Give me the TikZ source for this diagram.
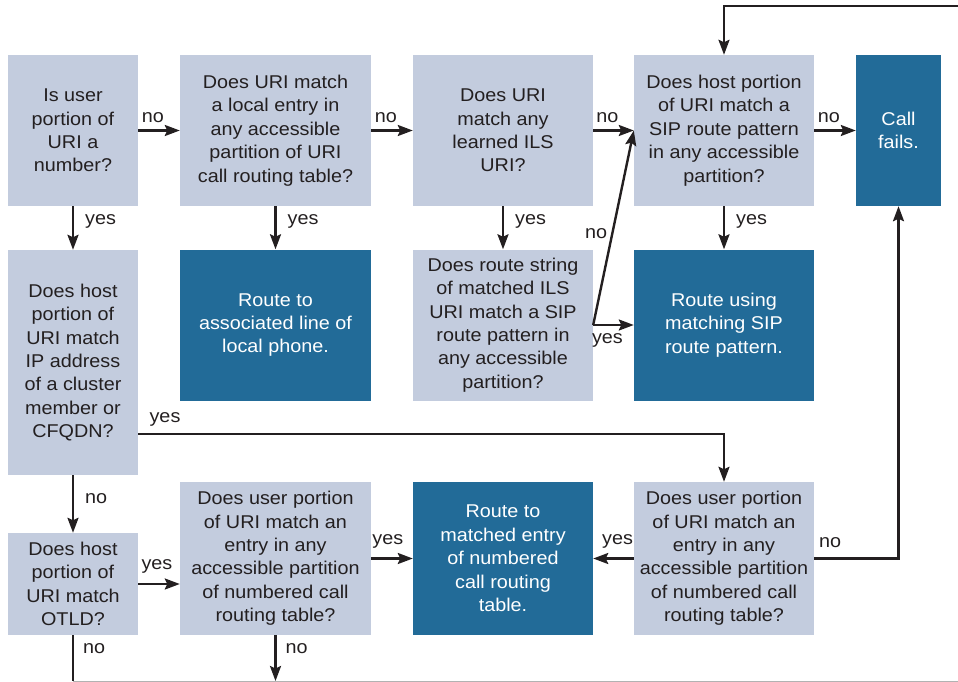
\documentclass[tikz,border=0pt]{standalone}
\usepackage{fontspec}
\setmainfont{Liberation Sans}[FakeStretch=1.07]
\usetikzlibrary{arrows.meta,positioning}

\definecolor{qfill}{RGB}{195,204,222}
\definecolor{rfill}{RGB}{34,107,152}
\definecolor{ink}{RGB}{35,31,32}

\begin{document}
\begin{tikzpicture}[x=1pt,y=-1pt]
    \def\txt{\fontsize{18.5}{23.4}\selectfont}
    \tikzstyle{question} = [fill=qfill, text=ink, inner sep=0pt, align=center, font=\txt]
    \tikzstyle{result} = [fill=rfill, text=white, inner sep=0pt, align=center, font=\txt]
    \tikzstyle{signal} = [draw=ink, line width=2.4pt, -{Stealth[length=15pt,width=11pt,inset=2.5pt]}]
    \tikzstyle{annot} = [text=ink, font=\txt, inner sep=1pt]
    \useasboundingbox (0,0) rectangle (958,682);

    % top row
    \node[question, minimum width=130pt, minimum height=151pt] (isnum) at (73,130.5)
        {Is user\\portion of\\URI a\\number?};
    \node[question, minimum width=191pt, minimum height=151pt] (localuri) at (275.5,130.5)
        {Does URI match\\a local entry in\\any accessible\\partition of URI\\call routing table?};
    \node[question, minimum width=180pt, minimum height=151pt] (ilsuri) at (503,130.5)
        {Does URI\\match any\\learned ILS\\URI?};
    \node[question, minimum width=180pt, minimum height=151pt] (sipmatch) at (724,130.5)
        {Does host portion\\of URI match a\\SIP route pattern\\in any accessible\\partition?};
    \node[result, minimum width=85pt, minimum height=151pt] (fail) at (898.5,130.5)
        {Call\\fails.};

    % middle row
    \node[question, minimum width=130pt, minimum height=225pt] (hostip) at (73,362.5)
        {Does host\\portion of\\URI match\\IP address\\of a cluster\\member or\\CFQDN?};
    \node[result, minimum width=191pt, minimum height=151pt] (localphone) at (275.5,325)
        {Route to\\associated line of\\local phone.};
    \node[question, minimum width=180pt, minimum height=151pt] (ilsroute) at (503,325)
        {Does route string\\of matched ILS\\URI match a SIP\\route pattern in\\any accessible\\partition?};
    \node[result, minimum width=180pt, minimum height=151pt] (siproute) at (724,325)
        {Route using\\matching SIP\\route pattern.};

    % bottom row
    \node[question, minimum width=130pt, minimum height=102pt] (otld) at (73,584)
        {Does host\\portion of\\URI match\\OTLD?};
    \node[question, minimum width=191pt, minimum height=153pt] (numbered) at (275.5,558.5)
        {Does user portion\\of URI match an\\entry in any\\accessible partition\\of numbered call\\routing table?};
    \node[result, minimum width=180pt, minimum height=153pt] (numroute) at (503,558.5)
        {Route to\\matched entry\\of numbered\\call routing\\table.};
    \node[question, minimum width=180pt, minimum height=153pt] (numbered2) at (724,558.5)
        {Does user portion\\of URI match an\\entry in any\\accessible partition\\of numbered call\\routing table?};

    \coordinate (topR) at (958,6);
    \coordinate (bottomL) at (73,681);
    \coordinate (bottomR) at (958,681);

    % no branches along the top
    \draw[signal] (isnum) -- node[annot, above=6pt, pos=0.35] {no} (localuri);
    \draw[signal] (localuri) -- node[annot, above=6pt, pos=0.35] {no} (ilsuri);
    \draw[signal] (ilsuri) -- node[annot, above=6pt, pos=0.35] {no} (sipmatch.west);
    \draw[signal] (sipmatch) -- node[annot, above=6pt, pos=0.35] {no} (fail);
    \draw[signal] (topR) -| (sipmatch.north);

    % yes branches down
    \draw[signal] (isnum) -- node[annot, right=10pt, pos=0.35] {yes} (hostip);
    \draw[signal] (localuri) -- node[annot, right=10pt, pos=0.35] {yes} (localphone);
    \draw[signal] (ilsuri) -- node[annot, right=10pt, pos=0.35] {yes} (ilsroute);
    \draw[signal] (sipmatch) -- node[annot, right=10pt, pos=0.35] {yes} (siproute);

    % ILS route string
    \draw[signal] (ilsroute.east) -- node[annot, left=3pt, pos=0.47] {no} (sipmatch.west);
    \draw[signal] (ilsroute.east) -- node[annot, below=6pt, pos=0.35] {yes} (siproute.west);

    % cluster member / OTLD
    \draw[signal] ([yshift=-71.5pt]hostip.east) -| (numbered2.north);
    \node[annot] (hostyes) at (165,419) {yes};
    \draw[signal] (hostip) -- node[annot, right=10pt, pos=0.4] {no} (otld);
    \draw[signal] (otld) -- node[annot, above=8pt, pos=0.45] {yes} (otld.east -| numbered.west);

    % numbered call routing table
    \draw[signal] (numbered) -- node[annot, above=8pt, pos=0.4] {yes} (numroute);
    \draw[signal] (numbered2) -- node[annot, above=8pt, pos=0.4] {yes} (numroute);
    \draw[signal] (numbered2.east) -| (fail.south);
    \node[annot] (failno) at (830,543) {no};

    % leaving the page
    \draw[gray!60, line width=1pt] (bottomL) -- (bottomR);
    \draw[draw=ink, line width=2.4pt] (otld.south) -- node[annot, right=8pt, pos=0.3] {no} (bottomL);
    \draw[signal] (numbered.south) -- node[annot, right=8pt, pos=0.3] {no} (numbered.south |- bottomL);
\end{tikzpicture}
\end{document}
